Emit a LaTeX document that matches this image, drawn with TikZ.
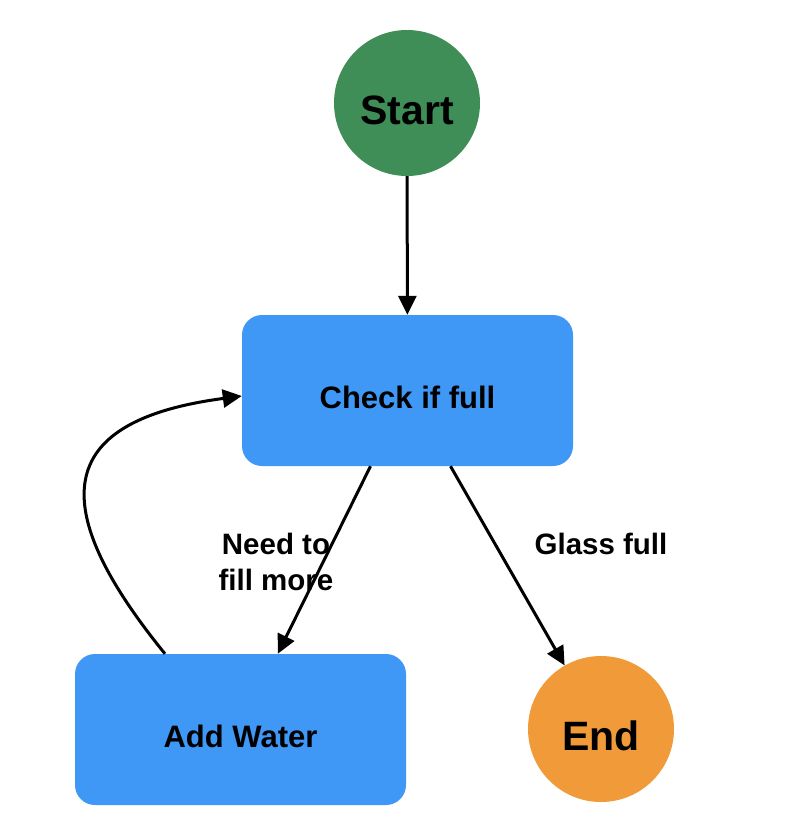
\documentclass[tikz,border=0pt]{standalone}
\usepackage{fontspec}
\setmainfont{Liberation Sans}
\usetikzlibrary{arrows.meta}
\definecolor{startgreen}{HTML}{3F8E58}
\definecolor{boxblue}{HTML}{3F97F6}
\definecolor{endorange}{HTML}{F09A39}
\tikzset{
  statebox/.style={draw=none, fill=boxblue, rounded corners=20pt, minimum width=331pt, minimum height=151pt, inner sep=0pt, text height=35pt, text depth=0pt, font=\bfseries\fontsize{31}{36}\selectfont},
  termcircle/.style={draw=none, circle, minimum size=146pt, inner sep=0pt, text height=42pt, text depth=0pt, font=\bfseries\fontsize{41}{46}\selectfont},
  flow/.style={line width=3pt, -{Triangle[length=19pt,width=18pt]}},
  edgelabel/.style={font=\bfseries\fontsize{29.5}{36}\selectfont, align=center, inner sep=0pt}
}
\begin{document}
\begin{tikzpicture}[x=1pt,y=-1pt]
\useasboundingbox (0,0) rectangle (796,838);
\node[termcircle, fill=startgreen] (start) at (407,103) {Start};
\node[statebox] (check) at (407.5,390.5) {Check if full};
\node[statebox] (add) at (240.5,729.5) {Add Water};
\node[termcircle, fill=endorange] (end) at (601,729) {End};
\node[edgelabel] (lblneed) at (276,562) {Need to\\fill more};
\node[edgelabel] (lblfull) at (601,544) {Glass full};
\draw[flow] (start) -- (check);
\draw[flow] ([xshift=-37pt]check.south) -- (add);
\draw[flow] ([xshift=43pt]check.south) -- (end);
\draw[flow] ([xshift=-75.5pt]add.north) .. controls (40,500) and (60,420) .. ([yshift=-5.5pt]check.west);
\end{tikzpicture}
\end{document}
